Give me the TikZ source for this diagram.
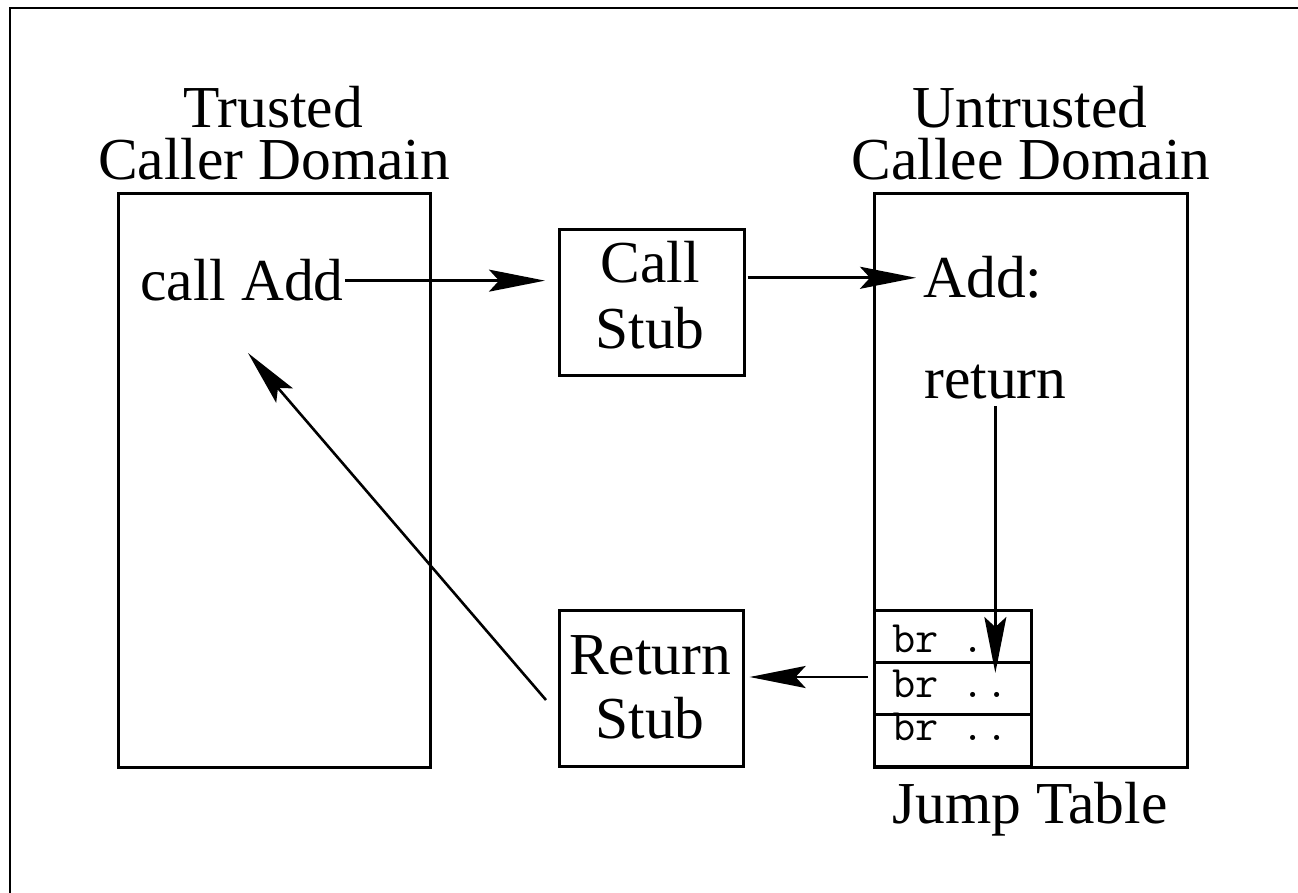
\documentclass[tikz,border=0pt]{standalone}
\usepackage{fontspec}
\setmainfont{Liberation Serif}
\usetikzlibrary{arrows.meta}
\begin{document}
\begin{tikzpicture}[x=1pt,y=-1pt, line width=2.6pt,
  box/.style={draw, inner sep=0pt, anchor=north west},
  big/.style={font=\fontsize{59.5}{59.5}\selectfont, inner sep=0pt},
  mono/.style={font=\ttfamily\fontsize{45}{45}\selectfont, inner sep=0pt, anchor=base west},
  arr/.style={-{Stealth[length=56pt,width=22pt,inset=10pt]}}]
\useasboundingbox (0,0) rectangle (1298,893);
\clip (0,0) rectangle (1298,893);
\draw (10,8) rectangle (1330,930);
% boxes
\node[box, minimum width=312pt, minimum height=574pt] (caller) at (117,192) {};
\node[box, minimum width=313pt, minimum height=574pt] (callee) at (873,192) {};
\node[box, minimum width=185pt, minimum height=146pt] (callstub) at (558,228) {};
\node[box, minimum width=184pt, minimum height=156pt] (retstub) at (558,609) {};
\node[box, minimum width=157pt, minimum height=52pt] (row1) at (873,609) {};
\node[box, minimum width=157pt, minimum height=52pt] (row2) at (873,661) {};
\node[box, minimum width=157pt, minimum height=52pt] (row3) at (873,713) {};
% titles
\node[big, anchor=base] (t1) at (273,128) {Trusted};
\node[big, anchor=base] (t2) at (274,180) {Caller Domain};
\node[big, anchor=base] (t3) at (1030,128) {Untrusted};
\node[big, anchor=base] (t4) at (1031,180) {Callee Domain};
% texts
\node[big, anchor=base west] (calladd) at (139,301) {call Add};
\node[big, anchor=base west] (add) at (922,298) {Add:};
\node[big, anchor=base west] (ret) at (923,398) {return};
\node[big, anchor=base] (cs1) at (650,283) {Call};
\node[big, anchor=base] (cs2) at (650,348) {Stub};
\node[big, anchor=base] (rs1) at (650,674) {Return};
\node[big, anchor=base] (rs2) at (650,738) {Stub};
\node[mono] (br1) at (891,652) {br ..};
\node[mono] (br2) at (891,697) {br ..};
\node[mono] (br3) at (891,740) {br ..};
\node[big, anchor=base] (jt) at (1030,823) {Jump Table};
% connectors
\coordinate (jtin) at (868,677);
\coordinate (diagstart) at (546,700);
\coordinate (retpt) at (248,353);
\draw[arr, shorten >=13pt] (calladd.east) -- (calladd.east -| callstub.west);
\draw[arr, shorten <=2pt, shorten >=6pt] (callstub.east |- add.west) -- (add.west);
\draw[arr, shorten <=6pt] (ret.south) -- (ret.south |- 0,673);
\draw[arr, shorten >=5pt] (jtin) -- (jtin -| retstub.east);
\draw[arr] (diagstart) -- (retpt);
\end{tikzpicture}
\end{document}
